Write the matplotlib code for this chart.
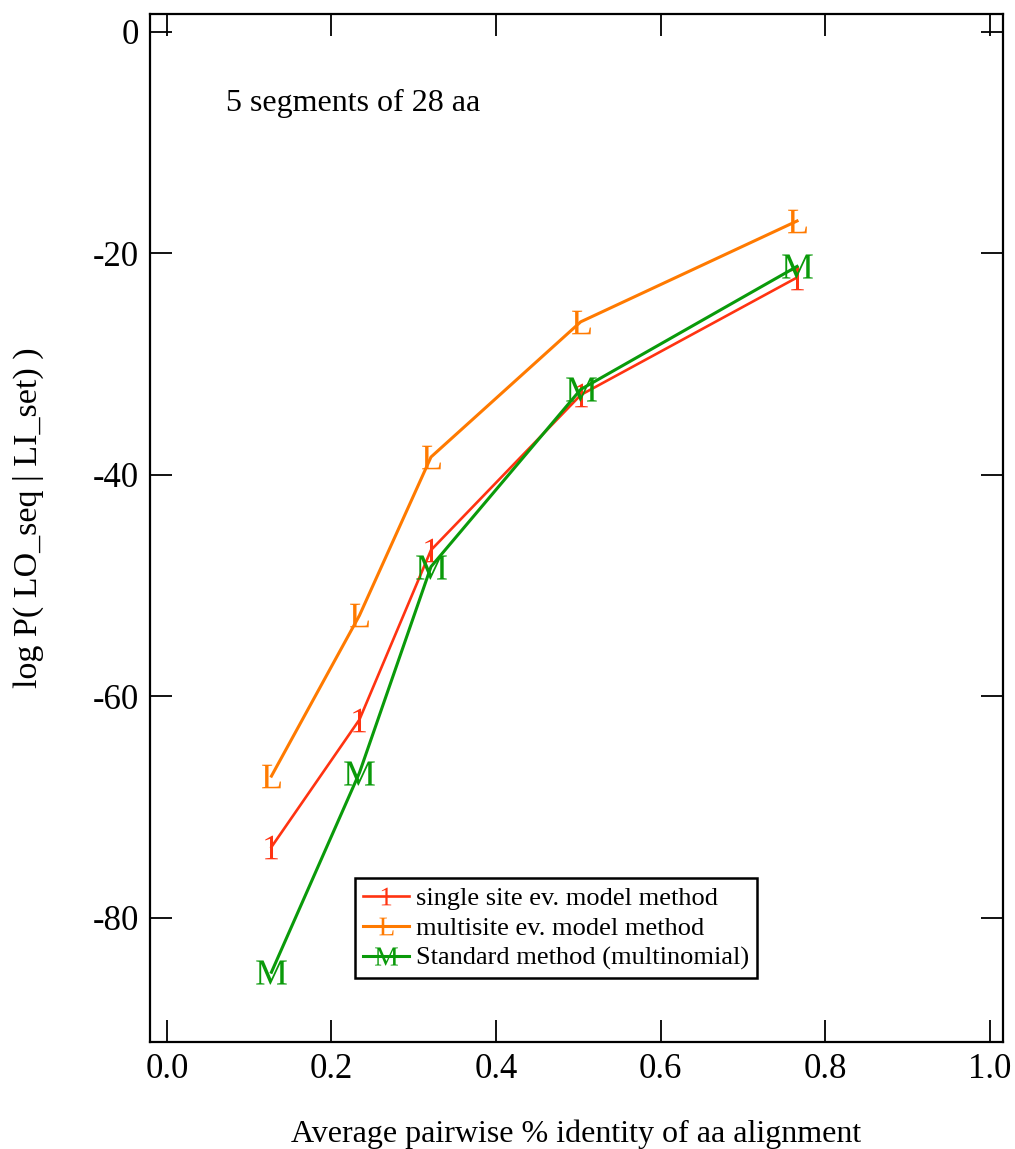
"""log P(LO_seq | LI_set) gegen mittlere paarweise Identitaet."""

import matplotlib

matplotlib.use("Agg")
import matplotlib.pyplot as plt

plt.rcParams["font.family"] = ["Liberation Serif", "DejaVu Serif"]
plt.rcParams["mathtext.fontset"] = "custom"
plt.rcParams["mathtext.rm"] = "Liberation Serif"

# Daten
identity = [0.127, 0.234, 0.321, 0.503, 0.766]
single_site = [-73.6, -62.1, -46.8, -32.8, -22.2]
multisite = [-67.2, -52.7, -38.4, -26.2, -17.1]
standard = [-84.9, -66.9, -48.3, -32.3, -21.2]

x_ticks = [0.0, 0.2, 0.4, 0.6, 0.8, 1.0]
y_ticks = [0, -20, -40, -60, -80]

RED = "#ff3311"
ORANGE = "#ff7a00"
GREEN = "#0a9a0a"

fig = plt.figure(figsize=(10.15, 11.49), dpi=100, facecolor="white")
ax = fig.add_axes([0.1478, 0.0931, 0.8404, 0.8947])

ax.plot(identity, single_site, color=RED, linewidth=1.9,
        marker=r"$\mathrm{1}$", markersize=17, markeredgewidth=0,
        label="single site ev. model method")
ax.plot(identity, multisite, color=ORANGE, linewidth=2.2,
        marker=r"$\mathrm{L}$", markersize=17, markeredgewidth=0,
        label="multisite ev. model method")
ax.plot(identity, standard, color=GREEN, linewidth=2.2,
        marker=r"$\mathrm{M}$", markersize=22, markeredgewidth=0,
        label="Standard method (multinomial)")

ax.set_xlim(-0.0206, 1.0164)
ax.set_ylim(-91.2, 1.58)
ax.set_xticks(x_ticks)
ax.set_xticklabels([f"{t:.1f}" for t in x_ticks])
ax.set_yticks(y_ticks)
ax.set_yticklabels([f"{t:d}" for t in y_ticks])

ax.tick_params(direction="in", length=16, width=1.3, labelsize=25,
               top=True, right=True, pad=8)
for sp in ax.spines.values():
    sp.set_linewidth(1.6)

ax.set_xlabel("Average pairwise % identity of aa alignment", fontsize=23, labelpad=24)
ax.set_ylabel("log P( LO_seq | LI_set) )", fontsize=24.5)
ax.yaxis.set_label_coords(-0.124, 0.51)

ax.text(0.089, 0.913, "5 segments of 28 aa", transform=ax.transAxes,
        fontsize=23, ha="left", va="center")

leg = ax.legend(loc="lower left", bbox_to_anchor=(0.24, 0.062), fontsize=19,
                markerscale=0.75, handlelength=1.75, handletextpad=0.27,
                labelspacing=0.25, borderpad=0.3, borderaxespad=0,
                fancybox=False, framealpha=1)
leg.get_frame().set_edgecolor("black")
leg.get_frame().set_linewidth(1.8)

fig.savefig("out.png", dpi=100, facecolor="white")
plt.close(fig)
